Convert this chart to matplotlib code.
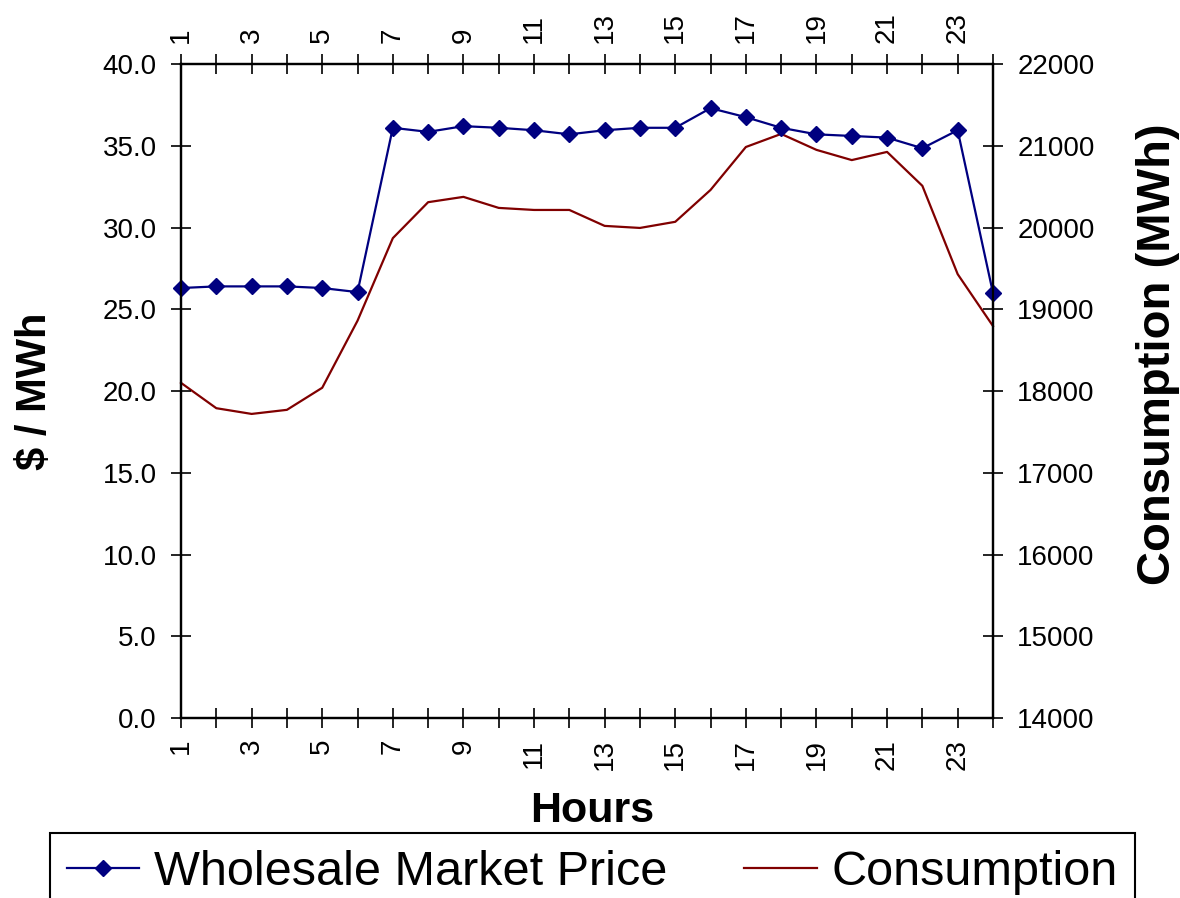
import matplotlib
matplotlib.use("Agg")
import matplotlib.pyplot as plt
from matplotlib.lines import Line2D

plt.rcParams['font.family'] = ['Liberation Sans', 'DejaVu Sans']

# Hourly wholesale price and system consumption
hours = list(range(1, 25))
price = [26.3, 26.4, 26.4, 26.4, 26.3, 26.05, 36.1, 35.85, 36.2, 36.1, 35.95, 35.7,
         35.95, 36.1, 36.1, 37.3, 36.75, 36.1, 35.7, 35.6, 35.5, 34.85, 35.95, 26.0]
consumption = [18100, 17790, 17720, 17770, 18040, 18860, 19870, 20310, 20375, 20240, 20215, 20215,
               20020, 19995, 20070, 20460, 20985, 21145, 20950, 20825, 20925, 20510, 19430, 18795]
hour_labels = [str(h) if h % 2 == 1 else '' for h in hours]
price_ticks = [0, 5, 10, 15, 20, 25, 30, 35, 40]
cons_ticks = list(range(14000, 22001, 1000))

navy = '#000080'
maroon = '#800000'

fig = plt.figure(figsize=(11.8, 8.98), dpi=100)
ax = fig.add_axes([0.1534, 0.2004, 0.6881, 0.7283])
ax2 = ax.twinx()

ax2.plot(hours, consumption, color=maroon, lw=1.6, clip_on=False)
ax.plot(hours, price, color=navy, lw=1.6, marker='D', ms=8.5, clip_on=False)

# price on top of consumption
ax.set_zorder(ax2.get_zorder() + 1)
ax.patch.set_visible(False)

ax.set_xlim(1, 24)
ax.set_ylim(0, 40)
ax2.set_ylim(14000, 22000)

ax.set_xticks(hours)
ax.set_xticklabels(hour_labels)
ax.set_yticks(price_ticks)
ax.set_yticklabels(['%.1f' % v for v in price_ticks])
ax2.set_yticks(cons_ticks)

ax.tick_params(axis='x', top=True, labeltop=True, direction='inout', length=14, width=1.2,
               labelsize=20, labelrotation=90, pad=8)
ax.tick_params(axis='y', direction='inout', length=15, width=1.2, labelsize=20, pad=10)
ax2.tick_params(axis='y', direction='inout', length=15, width=1.2, labelsize=20, pad=10)

for a in (ax, ax2):
    for s in a.spines.values():
        s.set_linewidth(1.6)

ax.set_ylabel('$ / MWh', fontsize=30, fontweight='bold')
ax.yaxis.label.set_va('center')
ax.yaxis.set_label_coords(-0.180, 0.5)

ax2.set_ylabel('Consumption (MWh)', fontsize=34, fontweight='bold', rotation=90)
ax2.yaxis.label.set_va('center')
ax2.yaxis.set_label_coords(1.203, 0.556)

ax.set_xlabel('Hours', fontsize=31, fontweight='bold')
ax.xaxis.label.set_va('center')
ax.xaxis.set_label_coords(0.506, -0.142)

handles = [Line2D([], [], color=navy, lw=1.6, marker='D', ms=8.5),
           Line2D([], [], color=maroon, lw=1.6)]
leg = fig.legend(handles, ['Wholesale Market Price', 'Consumption'],
                 loc='upper left', bbox_to_anchor=(0.042, 0.0724, 0.92, 0), mode='expand',
                 borderaxespad=0, ncol=2, fontsize=35, handlelength=1.5, handletextpad=0.3,
                 borderpad=0.35, fancybox=False, framealpha=1, edgecolor='black')
leg.get_frame().set_linewidth(1.5)

fig.savefig('out.png', dpi=100)
